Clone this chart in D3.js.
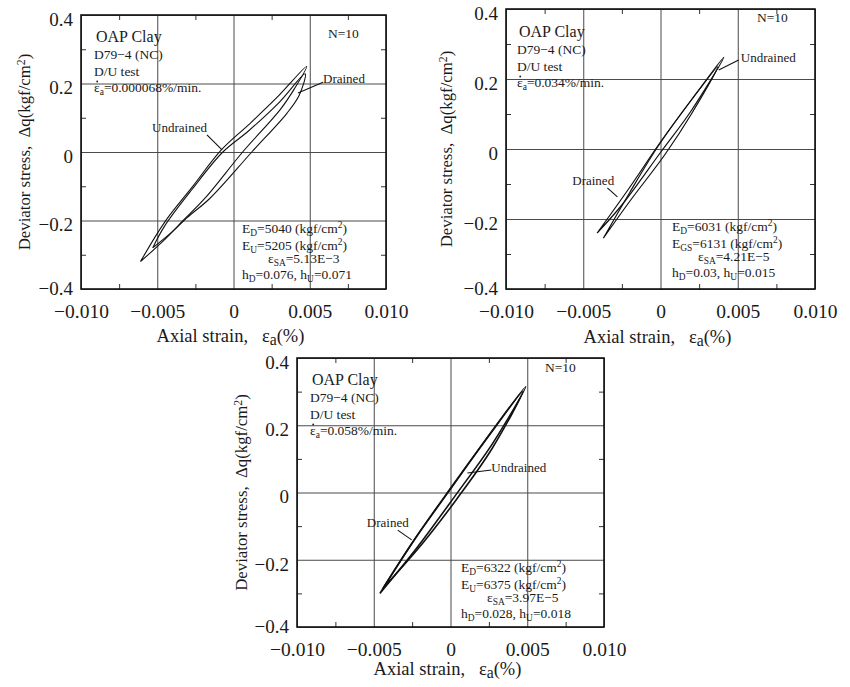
<!DOCTYPE html>
<html>
<head>
<meta charset="utf-8">
<script src="https://cdn.jsdelivr.net/npm/d3@7"></script>
<style>
  body { margin: 0; background: #fff; }
  svg { display: block; }
  text { font-family: "Liberation Serif", "Times New Roman", serif; fill: #1a1a1a; white-space: pre; }
</style>
</head>
<body>
<svg id="chart" width="850" height="687"></svg>
<script>
// axis ticks shared by all three panels
const xTicks = [-0.010, -0.005, 0, 0.005, 0.010];
const xTickLabels = ["−0.010", "−0.005", "0", "0.005", "0.010"];
const yTicks = [-0.4, -0.2, 0, 0.2, 0.4];
const yTickLabels = ["−0.4", "−0.2", "0", "0.2", "0.4"];
const xMinorTicks = [-0.0075, -0.0025, 0.0025, 0.0075];
const yMinorTicks = [-0.3, -0.1, 0.1, 0.3];

// loops as [axial strain (%), deviator stress (kgf/cm2)], N=10
const p1Undrained = [
  [-0.0061, -0.320], [-0.0045, -0.255], [-0.0033, -0.200], [-0.00187, -0.135], [0.0006, 0.000],
  [0.00305, 0.123], [0.0040, 0.185], [0.0048, 0.250],
  [0.0028, 0.157], [0.0010, 0.080], [-0.0008, 0.006], [-0.0027, -0.102], [-0.0045, -0.204], [-0.0061, -0.320]
];
const p1Drained = [
  [-0.0053, -0.280], [-0.0042, -0.240], [-0.0030, -0.190], [-0.00154, -0.135], [0.0012, 0.000],
  [0.0035, 0.113], [0.0043, 0.165], [0.0047, 0.228],
  [0.0030, 0.145], [0.0010, 0.062], [-0.0007, 0.000], [-0.0027, -0.108], [-0.0045, -0.215], [-0.0053, -0.280]
];
const p2Undrained = [
  [-0.0041, -0.240], [-0.0025, -0.160], [0.0000, -0.010], [0.0020, 0.110], [0.0041, 0.262],
  [0.0025, 0.170], [0.0000, 0.020], [-0.0020, -0.110], [-0.0041, -0.240]
];
const p2Drained = [
  [-0.0037, -0.255], [-0.0020, -0.150], [0.0003, -0.015], [0.0020, 0.100], [0.0037, 0.235],
  [0.0020, 0.140], [-0.0002, 0.005], [-0.0020, -0.125], [-0.0037, -0.255]
];
const p3Undrained = [
  [-0.0046, -0.300], [-0.0022, -0.165], [0.0003, -0.010], [0.0028, 0.150], [0.0049, 0.315],
  [0.0025, 0.170], [0.0000, 0.010], [-0.0025, -0.150], [-0.0046, -0.300]
];
const p3Drained = [
  [-0.0044, -0.285], [-0.0018, -0.150], [0.0004, -0.020], [0.0027, 0.130], [0.0047, 0.300],
  [0.0022, 0.150], [-0.0002, 0.000], [-0.0022, -0.130], [-0.0044, -0.285]
];

// text blocks (_{..} subscript, ^{..} superscript, leading ~ = rate dot over epsilon)
const p1Info = ["D79−4 (NC)", "D/U test", "~ε_{a}=0.000068%/min."];
const p2Info = ["D79−4 (NC)", "D/U test", "~ε_{a}=0.034%/min."];
const p3Info = ["D79−4 (NC)", "D/U test", "~ε_{a}=0.058%/min."];
const p1Params = ["E_{D}=5040 (kgf/cm^{2})", "E_{U}=5205 (kgf/cm^{2})", "ε_{SA}=5.13E−3", "h_{D}=0.076, h_{U}=0.071"];
const p2Params = ["E_{D}=6031 (kgf/cm^{2})", "E_{GS}=6131 (kgf/cm^{2})", "ε_{SA}=4.21E−5", "h_{D}=0.03, h_{U}=0.015"];
const p3Params = ["E_{D}=6322 (kgf/cm^{2})", "E_{U}=6375 (kgf/cm^{2})", "ε_{SA}=3.97E−5", "h_{D}=0.028, h_{U}=0.018"];

// leader labels: text anchor point and leader line, in data units
const p1Leaders = [
  { text: "Undrained", at: [-0.00534, 0.058], from: [-0.00174, 0.050], to: [-0.00075, 0.006] },
  { text: "Drained", at: [0.00587, 0.201], from: [0.00587, 0.204], to: [0.00423, 0.172] }
];
const p2Leaders = [
  { text: "Undrained", at: [0.0052, 0.249], from: [0.00506, 0.254], to: [0.00377, 0.226] },
  { text: "Drained", at: [-0.00571, -0.103], from: [-0.00344, -0.111], to: [-0.00279, -0.137] }
];
const p3Leaders = [
  { text: "Undrained", at: [0.00266, 0.061], from: [0.00266, 0.067], to: [0.0011, 0.058] },
  { text: "Drained", at: [-0.00545, -0.103], from: [-0.00344, -0.112], to: [-0.00253, -0.141] }
];

const panels = [
  { box: [81, 386, 15, 289], undrained: p1Undrained, drained: p1Drained, info: p1Info, params: p1Params,
    leaders: p1Leaders, infoPos: [13, 27], nPos: [247, 23], paramPos: [161, 218], titleGap: 53, yTitleGap: 51, stroke: 1.1 },
  { box: [506, 815, 9, 289], undrained: p2Undrained, drained: p2Drained, info: p2Info, params: p2Params,
    leaders: p2Leaders, infoPos: [11, 28], nPos: [251, 13], paramPos: [166, 222], titleGap: 54, yTitleGap: 54, stroke: 1.2 },
  { box: [297, 604, 358, 627], undrained: p3Undrained, drained: p3Drained, info: p3Info, params: p3Params,
    leaders: p3Leaders, infoPos: [13, 27], nPos: [248, 14], paramPos: [164, 214], titleGap: 48, yTitleGap: 50, stroke: 1.6 }
];

const svg = d3.select("#chart");

function richText(sel, str, subSize = 0.7) {
  const parts = str.split(/(_\{[^}]*\}|\^\{[^}]*\})/).filter((s) => s.length);
  let shift = 0;
  parts.forEach((p) => {
    let target = 0;
    let txt = p;
    let small = false;
    if (p.startsWith("_{")) { target = 3; txt = p.slice(2, -1); small = true; }
    else if (p.startsWith("^{")) { target = -5; txt = p.slice(2, -1); small = true; }
    const t = sel.append("tspan").attr("dy", target - shift).text(txt);
    if (small) t.attr("font-size", subSize + "em");
    shift = target;
  });
}

panels.forEach((p) => {
  const [left, right, top, bottom] = p.box;
  const w = right - left;
  const h = bottom - top;

  const x_scale = d3.scaleLinear().domain([-0.010, 0.010]).range([left, right]);
  const y_scale = d3.scaleLinear().domain([-0.4, 0.4]).range([bottom, top]);

  const g = svg.append("g");

  // grid at the major ticks
  g.append("g")
    .attr("transform", `translate(0,${bottom})`)
    .call(d3.axisBottom(x_scale).tickValues(xTicks).tickSize(-h).tickFormat(""))
    .call((a) => a.select(".domain").remove())
    .call((a) => a.selectAll("line").attr("stroke", "#4a4a4a").attr("stroke-width", 1));
  g.append("g")
    .attr("transform", `translate(${left},0)`)
    .call(d3.axisLeft(y_scale).tickValues(yTicks).tickSize(-w).tickFormat(""))
    .call((a) => a.select(".domain").remove())
    .call((a) => a.selectAll("line").attr("stroke", "#4a4a4a").attr("stroke-width", 1));

  // minor inward ticks on all four sides
  const minor = [
    [d3.axisBottom(x_scale).tickValues(xMinorTicks).tickSize(-5), `translate(0,${bottom})`],
    [d3.axisTop(x_scale).tickValues(xMinorTicks).tickSize(-5), `translate(0,${top})`],
    [d3.axisLeft(y_scale).tickValues(yMinorTicks).tickSize(-5), `translate(${left},0)`],
    [d3.axisRight(y_scale).tickValues(yMinorTicks).tickSize(-5), `translate(${right},0)`]
  ];
  minor.forEach(([ax, tr]) => {
    g.append("g").attr("transform", tr).call(ax.tickFormat(""))
      .call((a) => a.select(".domain").remove())
      .call((a) => a.selectAll("line").attr("stroke", "#333"));
  });

  // tick labels
  g.append("g")
    .attr("transform", `translate(0,${bottom})`)
    .call(d3.axisBottom(x_scale).tickValues(xTicks).tickSize(0).tickPadding(15)
      .tickFormat((d, i) => xTickLabels[i]))
    .call((a) => a.select(".domain").remove())
    .call((a) => a.selectAll("text").attr("font-size", 19.5).attr("font-family", "Liberation Serif").attr("fill", "#1a1a1a"));
  g.append("g")
    .attr("transform", `translate(${left},0)`)
    .call(d3.axisLeft(y_scale).tickValues(yTicks).tickSize(0).tickPadding(8)
      .tickFormat((d, i) => yTickLabels[i]))
    .call((a) => a.select(".domain").remove())
    .call((a) => a.selectAll("text").attr("font-size", 19).attr("font-family", "Liberation Serif")
      .attr("fill", "#1a1a1a").attr("dy", (d) => (d === -0.4 ? "0.3em" : "0.55em")));

  // frame
  g.append("rect")
    .attr("x", left).attr("y", top).attr("width", w).attr("height", h)
    .attr("fill", "none").attr("stroke", "#111").attr("stroke-width", 1.6);

  // hysteresis loops
  const line = d3.line().curve(d3.curveCatmullRom.alpha(0.5))
    .x((d) => x_scale(d[0])).y((d) => y_scale(d[1]));
  [p.undrained, p.drained].forEach((loop) => {
    g.append("path").datum(loop).attr("d", line)
      .attr("fill", "none").attr("stroke", "#111").attr("stroke-width", p.stroke)
      .attr("stroke-linejoin", "round");
  });

  // leader labels
  p.leaders.forEach((l) => {
    g.append("line")
      .attr("x1", x_scale(l.from[0])).attr("y1", y_scale(l.from[1]))
      .attr("x2", x_scale(l.to[0])).attr("y2", y_scale(l.to[1]))
      .attr("stroke", "#111").attr("stroke-width", 1.1);
    g.append("text").attr("x", x_scale(l.at[0])).attr("y", y_scale(l.at[1]))
      .attr("font-size", 13).text(l.text);
  });

  // info block, top left
  g.append("text").attr("x", left + p.infoPos[0] + 2).attr("y", top + p.infoPos[1])
    .attr("font-size", 16).text("OAP Clay");
  p.info.forEach((s, i) => {
    const tx = left + p.infoPos[0];
    const ty = top + p.infoPos[1] + 17 + i * 16.5;
    const dotted = s.startsWith("~");
    const t = g.append("text").attr("x", tx).attr("y", ty).attr("font-size", 13.5);
    richText(t, dotted ? s.slice(1) : s);
    if (dotted) {
      g.append("circle").attr("cx", tx + 3.2).attr("cy", ty - 10.5).attr("r", 0.9).attr("fill", "#1a1a1a");
    }
  });
  g.append("text").attr("x", left + p.nPos[0]).attr("y", top + p.nPos[1])
    .attr("font-size", 13.5).text("N=10");

  // parameter block, bottom right
  p.params.forEach((s, i) => {
    const t = g.append("text")
      .attr("x", left + p.paramPos[0] + (i === 2 ? 26 : 0))
      .attr("y", top + p.paramPos[1] + [0, 16.5, 30, 46][i])
      .attr("font-size", 13.5);
    richText(t, s);
  });

  // axis titles
  const xt = g.append("text").attr("x", (left + right) / 2 - 3).attr("y", bottom + p.titleGap)
    .attr("text-anchor", "middle").attr("font-size", 18.5);
  richText(xt, "Axial strain,   ε_{a}(%)", 0.85);
  const yt = g.append("text")
    .attr("transform", `translate(${left - p.yTitleGap},${(top + bottom) / 2}) rotate(-90)`)
    .attr("text-anchor", "middle").attr("font-size", 16.8);
  richText(yt, "Deviator stress,  Δq(kgf/cm^{2})");
});
</script>
</body>
</html>
